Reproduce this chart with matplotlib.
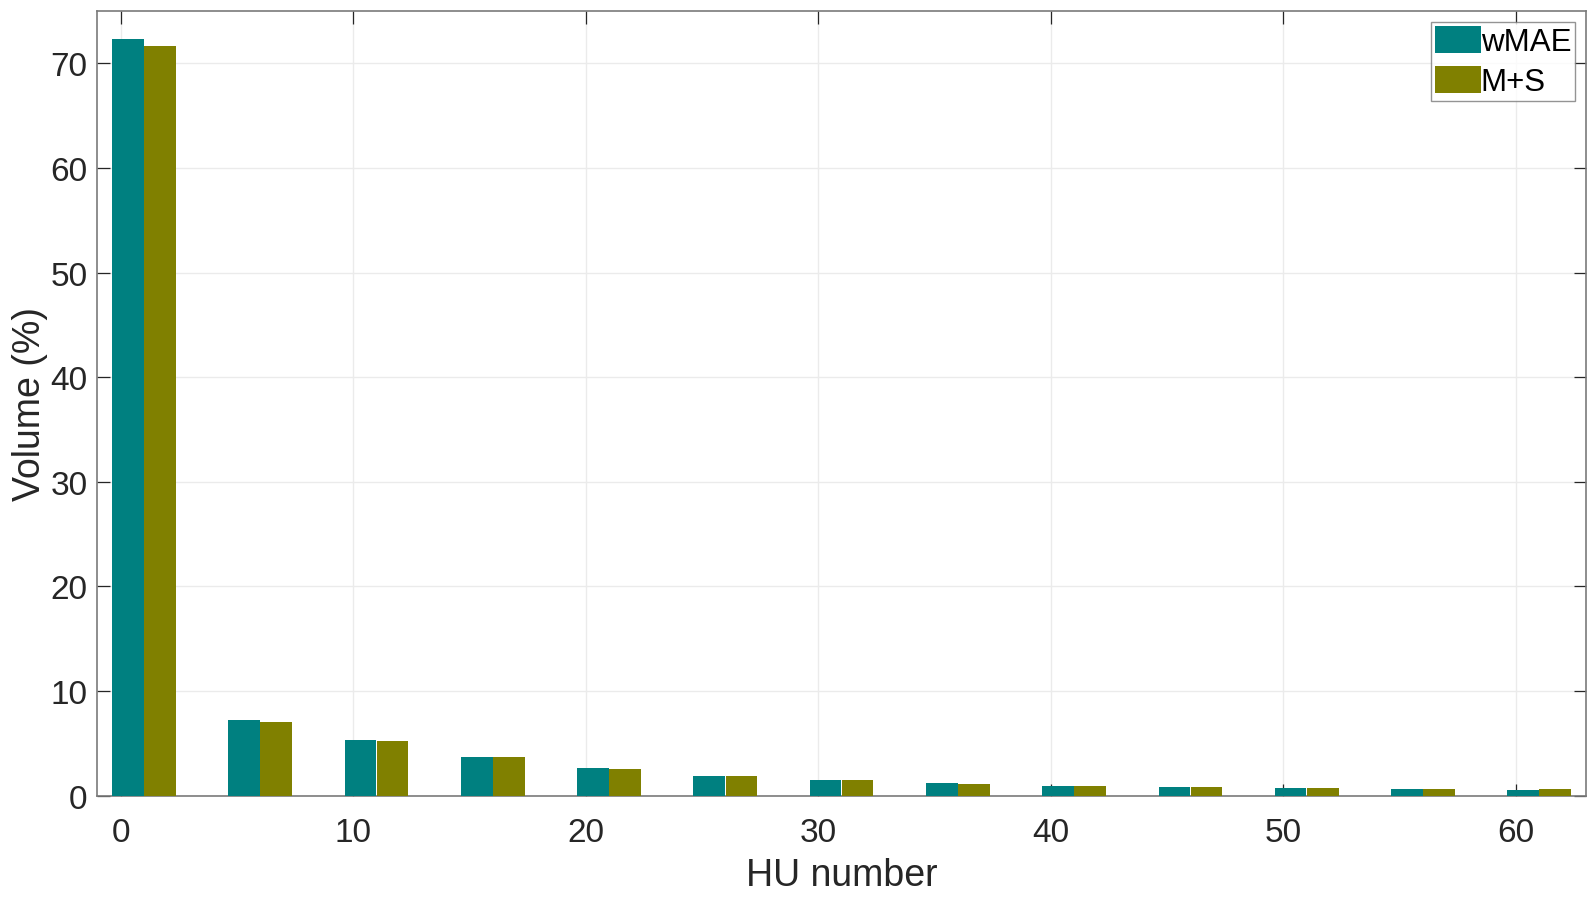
import matplotlib.pyplot as plt
import numpy as np

plt.rcParams['font.family'] = ['Liberation Sans', 'DejaVu Sans']

# bin centres (HU number) and volume percentages
hu_bins = [1, 6, 11, 16, 21, 26, 31, 36, 41, 46, 51, 56, 61]
wmae = [72.3, 7.23, 5.32, 3.70, 2.65, 1.91, 1.50, 1.21, 0.93, 0.83, 0.74, 0.64, 0.54]
ms = [71.7, 7.07, 5.25, 3.68, 2.55, 1.88, 1.50, 1.12, 0.90, 0.83, 0.74, 0.64, 0.64]

x = np.array(hu_bins, dtype=float)
w = 1.36

fig = plt.figure(figsize=(15.95, 9.03), dpi=100)
ax = fig.add_axes([0.0611, 0.1177, 0.9942 - 0.0611, 0.9867 - 0.1177])

ax.bar(x - 0.69, wmae, width=w, color='#008080', label='wMAE', zorder=3)
ax.bar(x + 0.69, ms, width=w, color='#808000', label='M+S', zorder=3)

ax.set_xlim(-1, 63)
ax.set_ylim(0, 75)
ax.set_xticks(np.arange(0, 61, 10))
ax.set_yticks(np.arange(0, 71, 10))

ax.grid(True, color='#ebebeb', linewidth=1.0, zorder=0)
ax.tick_params(direction='in', top=True, right=True, length=9, width=0.9,
               labelsize=24, colors='#262626', pad=7)
ax.tick_params(axis='x', pad=15)
for s in ax.spines.values():
    s.set_color('#7a7a7a')
    s.set_linewidth(1.2)

ax.set_xlabel('HU number', fontsize=27, color='#262626', labelpad=7)
ax.set_ylabel('Volume (%)', fontsize=27, color='#262626', labelpad=2)

leg = ax.legend(loc='upper right', fontsize=22.5, frameon=True, fancybox=False,
                handlelength=1.45, handleheight=0.95, handletextpad=0.0,
                borderpad=0.12, borderaxespad=0.35, labelspacing=0.28)
leg.get_frame().set_edgecolor('#7a7a7a')
leg.get_frame().set_linewidth(1.0)

fig.savefig('out.png', dpi=100)
